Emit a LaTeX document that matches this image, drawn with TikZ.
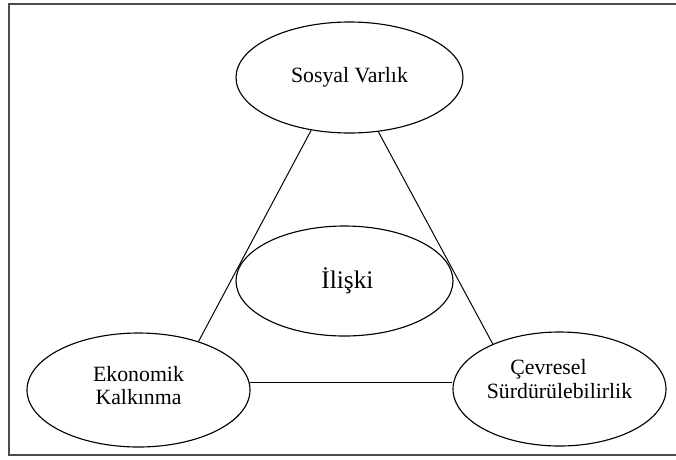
\documentclass[tikz,border=0pt]{standalone}
\usepackage{fontspec}
\setmainfont{Liberation Serif}
\usetikzlibrary{shapes.geometric}
\begin{document}
\begin{tikzpicture}[oval/.style={ellipse,draw,line width=0.8pt,inner sep=0pt,align=center,font=\fontsize{15.5}{16.5}\selectfont}]
	\useasboundingbox (0,0) rectangle (16.9,11.475);
	\draw[line width=1.4pt,black!70] (17.2,11.375) -- (0.225,11.375) -- (0.225,0.1) -- (17.2,0.1);
	
	\node[oval,minimum width=5.675cm,minimum height=2.775cm] (sosyal) at (8.7375,9.5375) {Sosyal Varlık};
	\node[oval,minimum width=5.425cm,minimum height=2.75cm,font=\fontsize{18}{20}\selectfont] (iliski) at (8.6125,4.45) {\hspace{0.15cm}İlişki};
	\node[oval,minimum width=5.325cm,minimum height=2.85cm] (cevre) at (13.9875,1.75) {Çevresel\hspace*{0.55cm}\\Sürdürülebilirlik\hspace*{0.55cm}\\[-2.3pt]};
	\node[oval,minimum width=5.575cm,minimum height=2.85cm] (ekonomik) at (3.4625,1.725) {Ekonomik\\Kalkınma\\[-10pt]};
	
	\draw[line width=0.7pt] (sosyal.234.4) -- (ekonomik.39);
	\draw[line width=0.7pt] (sosyal.298) -- (cevre.146.2);
	\draw[line width=0.7pt] (ekonomik.4.7) -- (ekonomik.4.7 -| cevre.west);
\end{tikzpicture}
\end{document}
